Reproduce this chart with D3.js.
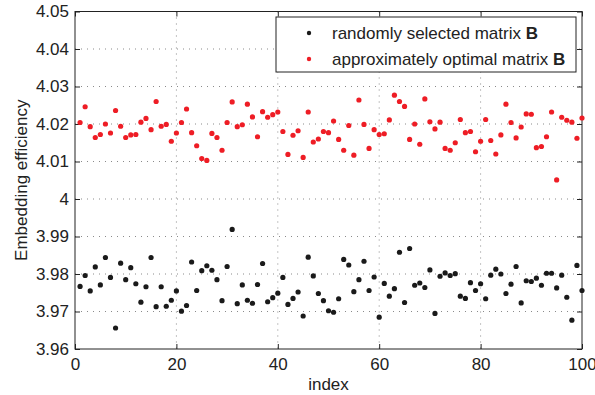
<!DOCTYPE html>
<html>
<head>
<meta charset="utf-8">
<script src="https://cdn.jsdelivr.net/npm/d3@7"></script>
<style>
  body { margin: 0; background: #fff; }
  text { font-family: "Liberation Sans", Arial, Helvetica, sans-serif; fill: #222; }
</style>
</head>
<body>
<div id="chart"></div>
<script>
// embedding efficiency per index (1..100)
const randomB = [
  3.9767, 3.9796, 3.9755, 3.9819, 3.9771, 3.9844, 3.9791, 3.9656, 3.9829, 3.9785,
  3.9817, 3.9774, 3.9725, 3.9766, 3.9844, 3.9713, 3.9766, 3.9714, 3.9730, 3.9755,
  3.9701, 3.9716, 3.9832, 3.9756, 3.9809, 3.9822, 3.9810, 3.9785, 3.9729, 3.9820,
  3.9919, 3.9721, 3.9771, 3.9730, 3.9722, 3.9772, 3.9828, 3.9726, 3.9737, 3.9749,
  3.9791, 3.9719, 3.9735, 3.9752, 3.9688, 3.9845, 3.9795, 3.9748, 3.9729, 3.9702,
  3.9698, 3.9734, 3.9839, 3.9824, 3.9753, 3.9785, 3.9834, 3.9756, 3.9792, 3.9685,
  3.9775, 3.9741, 3.9761, 3.9858, 3.9724, 3.9868, 3.9770, 3.9776, 3.9764, 3.9811,
  3.9695, 3.9794, 3.9803, 3.9796, 3.9801, 3.9741, 3.9735, 3.9777, 3.9756, 3.9774,
  3.9734, 3.9797, 3.9813, 3.9800, 3.9748, 3.9773, 3.9820, 3.9723, 3.9782, 3.9780,
  3.9789, 3.9770, 3.9802, 3.9802, 3.9763, 3.9797, 3.9738, 3.9677, 3.9823, 3.9756
];
const optimalB = [
  4.0204, 4.0246, 4.0193, 4.0164, 4.0172, 4.0200, 4.0176, 4.0236, 4.0194, 4.0164,
  4.0171, 4.0172, 4.0205, 4.0215, 4.0185, 4.0260, 4.0194, 4.0199, 4.0154, 4.0176,
  4.0204, 4.0240, 4.0177, 4.0142, 4.0108, 4.0103, 4.0175, 4.0164, 4.0130, 4.0204,
  4.0259, 4.0193, 4.0198, 4.0253, 4.0219, 4.0166, 4.0233, 4.0218, 4.0225, 4.0232,
  4.0180, 4.0119, 4.0170, 4.0182, 4.0111, 4.0232, 4.0152, 4.0160, 4.0180, 4.0177,
  4.0208, 4.0159, 4.0130, 4.0196, 4.0117, 4.0264, 4.0199, 4.0135, 4.0185, 4.0172,
  4.0174, 4.0211, 4.0277, 4.0260, 4.0247, 4.0159, 4.0200, 4.0146, 4.0267, 4.0206,
  4.0187, 4.0205, 4.0135, 4.0130, 4.0150, 4.0212, 4.0177, 4.0180, 4.0126, 4.0154,
  4.0212, 4.0156, 4.0120, 4.0171, 4.0253, 4.0204, 4.0163, 4.0192, 4.0227, 4.0226,
  4.0137, 4.0140, 4.0166, 4.0232, 4.0051, 4.0218, 4.0210, 4.0205, 4.0162, 4.0216
];
const xTicks = [0, 20, 40, 60, 80, 100];
const yTicks = [3.96, 3.97, 3.98, 3.99, 4.0, 4.01, 4.02, 4.03, 4.04, 4.05];
const seriesNames = ["randomly selected matrix ", "approximately optimal matrix "];
const seriesColors = ["#1a1a1a", "#ee1d25"];

const W = 595, H = 395;
const margin = { top: 11.5, right: 13, bottom: 46, left: 75 };
const width = W - margin.left - margin.right;
const height = H - margin.top - margin.bottom;

const svg = d3.select("#chart").append("svg")
  .attr("width", W).attr("height", H)
  .append("g")
  .attr("transform", `translate(${margin.left},${margin.top})`);

const x = d3.scaleLinear().domain([0, 100]).range([0, width]);
const y = d3.scaleLinear().domain([3.96, 4.05]).range([height, 0]);

// dotted grid
svg.append("g").selectAll("line.gy")
  .data(yTicks.slice(1, -1)).join("line")
  .attr("x1", 0).attr("x2", width)
  .attr("y1", d => y(d)).attr("y2", d => y(d))
  .attr("stroke", "#8a8a8a").attr("stroke-width", 1)
  .attr("stroke-dasharray", "1,5");
svg.append("g").selectAll("line.gx")
  .data(xTicks.slice(1, -1)).join("line")
  .attr("y1", 0).attr("y2", height)
  .attr("x1", d => x(d)).attr("x2", d => x(d))
  .attr("stroke", "#8a8a8a").attr("stroke-width", 1)
  .attr("stroke-dasharray", "1,5");

// axes with inward ticks on all sides
const fmt = d => String(+d.toFixed(2));
const styleAxis = g => {
  g.select(".domain").remove();
  g.selectAll("line").attr("stroke", "#222");
  g.selectAll("text").style("font-size", "17px").attr("fill", "#222");
};
svg.append("g").attr("transform", `translate(0,${height})`)
  .call(d3.axisBottom(x).tickValues(xTicks).tickSize(-5).tickPadding(9).tickFormat(fmt))
  .call(styleAxis);
svg.append("g")
  .call(d3.axisLeft(y).tickValues(yTicks).tickSize(-5).tickPadding(6).tickFormat(fmt))
  .call(styleAxis);
svg.append("g")
  .call(d3.axisTop(x).tickValues(xTicks).tickSize(-5).tickFormat(""))
  .call(styleAxis);
svg.append("g").attr("transform", `translate(${width},0)`)
  .call(d3.axisRight(y).tickValues(yTicks).tickSize(-5).tickFormat(""))
  .call(styleAxis);

svg.append("rect")
  .attr("width", width).attr("height", height)
  .attr("fill", "none").attr("stroke", "#222").attr("stroke-width", 1);

// points
[randomB, optimalB].forEach((vals, k) => {
  svg.append("g").selectAll("circle")
    .data(vals).join("circle")
    .attr("cx", (d, i) => x(i + 1))
    .attr("cy", d => y(d))
    .attr("r", 2.6)
    .attr("fill", seriesColors[k]);
});

// axis labels
svg.append("text")
  .attr("x", width / 2).attr("y", height + 41)
  .attr("text-anchor", "middle")
  .style("font-size", "17px")
  .text("index");
svg.append("text")
  .attr("transform", `translate(${-48},${height / 2}) rotate(-90)`)
  .attr("text-anchor", "middle")
  .style("font-size", "17px")
  .text("Embedding efficiency");

// legend
const lg = svg.append("g").attr("transform", `translate(${276 - margin.left},${17 - margin.top})`);
lg.append("rect")
  .attr("width", 300).attr("height", 55)
  .attr("fill", "#fff").attr("stroke", "#222").attr("stroke-width", 1);
seriesNames.forEach((name, k) => {
  const row = lg.append("g").attr("transform", `translate(0,${16 + k * 26})`);
  row.append("circle").attr("cx", 33).attr("cy", 0).attr("r", 2.2).attr("fill", seriesColors[k]);
  const t = row.append("text").attr("x", 56).attr("y", 6).style("font-size", "17px");
  t.append("tspan").text(name);
  t.append("tspan").style("font-weight", "bold").text("B");
});
</script>
</body>
</html>
